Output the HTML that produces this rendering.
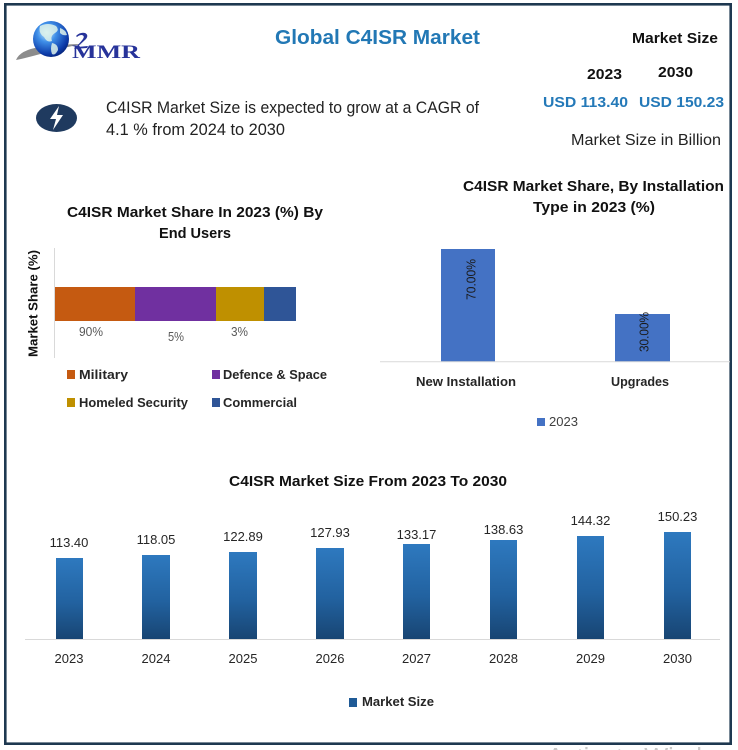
<!DOCTYPE html>
<html><head><meta charset="utf-8"><style>
html,body{margin:0;padding:0;background:#fff;}
svg{display:block;}
text{font-family:"Liberation Sans",sans-serif;}
</style></head><body>
<svg width="738" height="750" viewBox="0 0 738 750" xmlns="http://www.w3.org/2000/svg">
<defs>
<radialGradient id="globe" cx="0.38" cy="0.32" r="0.75">
<stop offset="0" stop-color="#cfeeff"/>
<stop offset="0.35" stop-color="#3f8fe8"/>
<stop offset="0.8" stop-color="#0c3aa8"/>
<stop offset="1" stop-color="#06206e"/>
</radialGradient>
<linearGradient id="bar" x1="0" y1="0" x2="0" y2="1">
<stop offset="0" stop-color="#2e79bf"/>
<stop offset="0.55" stop-color="#2262a0"/>
<stop offset="1" stop-color="#184573"/>
</linearGradient>
<clipPath id="gclip"><circle cx="51" cy="39" r="18"/></clipPath>
</defs>
<rect width="738" height="750" fill="#fff"/>
<!-- watermark -->
<text x="547" y="766" font-size="26" fill="#c9c9c9" textLength="200" lengthAdjust="spacingAndGlyphs">Activate Windows</text>
<rect x="5.3" y="4.3" width="725.4" height="739.4" fill="none" stroke="#1e3850" stroke-width="2.6"/>

<!-- Logo -->
<path d="M16 60 Q20 50 40 47 Q62 44 82 44 Q62 48 44 53 Q26 58 16 60 Z" fill="#8c8c8c"/>
<circle cx="51" cy="39" r="18" fill="url(#globe)"/>
<g clip-path="url(#gclip)" fill="#dff3ea" opacity="0.85">
<path d="M40 26 Q48 22 56 26 Q60 30 55 33 Q50 36 52 41 Q47 43 44 37 Q38 33 40 26 Z"/>
<path d="M52 43 Q58 44 58 50 Q55 56 52 54 Q50 49 52 43 Z"/>
<path d="M60 28 Q66 30 67 35 Q63 36 60 33 Z"/>
</g>
<path d="M76 36 Q80 32 85 33 Q89 35 86 39 Q82 43 77 47 L88 46 L87 48 L74 49 Q80 43 83 39 Q85 36 82 35 Q79 35 77 37 Z" fill="#27339a"/>
<text x="72" y="58" style="font-family:'Liberation Serif',serif;font-weight:bold" font-size="19" fill="#27339a" textLength="68" lengthAdjust="spacingAndGlyphs">MMR</text>

<!-- Title -->
<text x="275" y="44" font-size="20.5" font-weight="bold" fill="#2278b5" textLength="205" lengthAdjust="spacingAndGlyphs">Global C4ISR Market</text>
<text x="632" y="43" font-size="15" font-weight="bold" fill="#111" textLength="86" lengthAdjust="spacingAndGlyphs">Market Size</text>
<text x="587" y="79" font-size="15" font-weight="bold" fill="#111" textLength="35" lengthAdjust="spacingAndGlyphs">2023</text>
<text x="658" y="77" font-size="15" font-weight="bold" fill="#111" textLength="35" lengthAdjust="spacingAndGlyphs">2030</text>
<text x="543" y="107" font-size="15" font-weight="bold" fill="#2479b8" textLength="85" lengthAdjust="spacingAndGlyphs">USD 113.40</text>
<text x="639" y="107" font-size="15" font-weight="bold" fill="#2479b8" textLength="85" lengthAdjust="spacingAndGlyphs">USD 150.23</text>
<text x="571" y="145" font-size="16" fill="#222" textLength="150" lengthAdjust="spacingAndGlyphs">Market Size in Billion</text>

<!-- icon -->
<ellipse cx="56.5" cy="118" rx="20.5" ry="14" fill="#1f3a5f"/>
<path d="M59 106 L50 119 L56 119 L53 130 L63 115 L57 115 Z" fill="#fff"/>
<text x="106" y="113" font-size="17" fill="#222" textLength="373" lengthAdjust="spacingAndGlyphs">C4ISR Market Size is expected to grow at a CAGR of</text>
<text x="106" y="135" font-size="17" fill="#222" textLength="179" lengthAdjust="spacingAndGlyphs">4.1 % from 2024 to 2030</text>

<!-- Left chart -->
<text x="67" y="217" font-size="15" font-weight="bold" fill="#111" textLength="256" lengthAdjust="spacingAndGlyphs">C4ISR Market Share In 2023 (%) By</text>
<text x="159" y="238" font-size="15" font-weight="bold" fill="#111" textLength="72" lengthAdjust="spacingAndGlyphs">End Users</text>
<text transform="translate(37.5,357) rotate(-90)" x="0" y="0" font-size="13" font-weight="bold" fill="#111" textLength="107" lengthAdjust="spacingAndGlyphs">Market Share (%)</text>
<line x1="54.5" y1="248" x2="54.5" y2="358" stroke="#d9d9d9" stroke-width="1"/>
<rect x="55" y="287" width="80" height="34" fill="#c55a11"/>
<rect x="135" y="287" width="81" height="34" fill="#7030a0"/>
<rect x="216" y="287" width="48" height="34" fill="#bf9000"/>
<rect x="264" y="287" width="32" height="34" fill="#2f5597"/>
<text x="79" y="336" font-size="12.5" fill="#595959" textLength="24" lengthAdjust="spacingAndGlyphs">90%</text>
<text x="168" y="341" font-size="12.5" fill="#595959" textLength="16" lengthAdjust="spacingAndGlyphs">5%</text>
<text x="231" y="336" font-size="12.5" fill="#595959" textLength="17" lengthAdjust="spacingAndGlyphs">3%</text>
<rect x="67" y="370" width="8" height="9" fill="#c55a11"/>
<text x="79" y="379" font-size="13" font-weight="bold" fill="#262626" textLength="49" lengthAdjust="spacingAndGlyphs">Military</text>
<rect x="212" y="370" width="8" height="9" fill="#7030a0"/>
<text x="223" y="379" font-size="13" font-weight="bold" fill="#262626" textLength="104" lengthAdjust="spacingAndGlyphs">Defence &amp; Space</text>
<rect x="67" y="398" width="8" height="9" fill="#bf9000"/>
<text x="79" y="407" font-size="13" font-weight="bold" fill="#262626" textLength="109" lengthAdjust="spacingAndGlyphs">Homeled Security</text>
<rect x="212" y="398" width="8" height="9" fill="#2f5597"/>
<text x="223" y="407" font-size="13" font-weight="bold" fill="#262626" textLength="74" lengthAdjust="spacingAndGlyphs">Commercial</text>

<!-- Right chart -->
<text x="463" y="191" font-size="15" font-weight="bold" fill="#111" textLength="261" lengthAdjust="spacingAndGlyphs">C4ISR Market Share, By Installation</text>
<text x="533" y="212" font-size="15" font-weight="bold" fill="#111" textLength="122" lengthAdjust="spacingAndGlyphs">Type in 2023 (%)</text>
<rect x="441" y="249" width="54" height="112.5" fill="#4472c4"/>
<rect x="615" y="314" width="55" height="47.5" fill="#4472c4"/>
<line x1="380" y1="361.8" x2="730" y2="361.8" stroke="#d9d9d9" stroke-width="1"/>
<text transform="translate(475.5,300) rotate(-90)" font-size="13" fill="#1a1a1a" textLength="41" lengthAdjust="spacingAndGlyphs">70.00%</text>
<text transform="translate(648.5,352) rotate(-90)" font-size="13" fill="#1a1a1a" textLength="40" lengthAdjust="spacingAndGlyphs">30.00%</text>
<text x="416" y="386" font-size="13" font-weight="bold" fill="#262626" textLength="100" lengthAdjust="spacingAndGlyphs">New Installation</text>
<text x="611" y="386" font-size="13" font-weight="bold" fill="#262626" textLength="58" lengthAdjust="spacingAndGlyphs">Upgrades</text>
<rect x="537" y="418" width="8" height="8" fill="#4472c4"/>
<text x="549" y="426" font-size="13" fill="#404040" textLength="29" lengthAdjust="spacingAndGlyphs">2023</text>

<!-- Bottom chart -->
<text x="229" y="486" font-size="15" font-weight="bold" fill="#111" textLength="278" lengthAdjust="spacingAndGlyphs">C4ISR Market Size From 2023 To 2030</text>
<rect x="56" y="558" width="27" height="81" fill="url(#bar)"/>
<rect x="142" y="555" width="28" height="84" fill="url(#bar)"/>
<rect x="229" y="552" width="28" height="87" fill="url(#bar)"/>
<rect x="316" y="548" width="28" height="91" fill="url(#bar)"/>
<rect x="403" y="544" width="27" height="95" fill="url(#bar)"/>
<rect x="490" y="540" width="27" height="99" fill="url(#bar)"/>
<rect x="577" y="536" width="27" height="103" fill="url(#bar)"/>
<rect x="664" y="532" width="27" height="107" fill="url(#bar)"/>
<line x1="25" y1="639.5" x2="720" y2="639.5" stroke="#d9d9d9" stroke-width="1"/>
<g font-size="13" fill="#262626" text-anchor="middle">
<text x="69" y="547">113.40</text>
<text x="156" y="544">118.05</text>
<text x="243" y="541">122.89</text>
<text x="330" y="537">127.93</text>
<text x="416.5" y="539">133.17</text>
<text x="503.5" y="534">138.63</text>
<text x="590.5" y="525">144.32</text>
<text x="677.5" y="521">150.23</text>
<text x="69" y="663">2023</text>
<text x="156" y="663">2024</text>
<text x="243" y="663">2025</text>
<text x="330" y="663">2026</text>
<text x="416.5" y="663">2027</text>
<text x="503.5" y="663">2028</text>
<text x="590.5" y="663">2029</text>
<text x="677.5" y="663">2030</text>
</g>
<rect x="349" y="698" width="8" height="9" fill="#1f5a96"/>
<text x="362" y="706" font-size="13" font-weight="bold" fill="#262626" textLength="72" lengthAdjust="spacingAndGlyphs">Market Size</text>
</svg>
</body></html>
